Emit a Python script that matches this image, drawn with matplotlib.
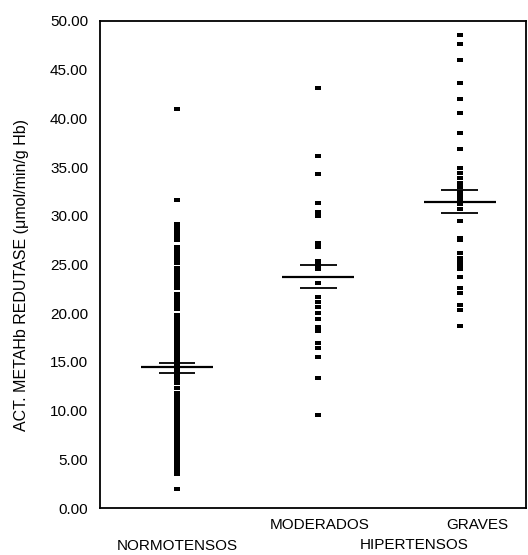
import matplotlib
matplotlib.use("Agg")
import matplotlib.pyplot as plt

# ---- data ----
groups = ["NORMOTENSOS", "MODERADOS", "GRAVES"]
positions = [1, 2, 3]

normotensos = [41.0, 31.6, 29.2, 28.9, 28.5, 28.2, 27.8, 27.5, 26.8, 26.4, 26.0,
               25.6, 25.2, 24.6, 24.2, 23.8, 23.4, 23.0, 22.6, 22.0, 21.6, 21.2,
               20.8, 20.4, 19.8, 19.4, 19.0, 18.6, 18.2, 17.8, 17.4, 17.0, 16.6,
               16.2, 15.8, 15.4, 15.0, 14.7, 14.4, 14.1, 13.8, 13.5, 13.2, 12.8,
               12.3, 11.8, 11.4, 11.0, 10.6, 10.2, 9.8, 9.4, 9.0, 8.6, 8.2, 7.8,
               7.4, 7.0, 6.6, 6.2, 5.8, 5.4, 5.0, 4.6, 4.2, 3.9, 3.5, 2.0]
moderados = [43.1, 36.1, 34.3, 31.3, 30.4, 30.0, 27.2, 26.8, 25.4, 25.0, 24.5,
             23.1, 21.7, 21.2, 20.6, 20.0, 19.4, 18.6, 18.2, 16.9, 16.4, 15.5,
             13.3, 9.5]
graves = [48.6, 47.6, 46.0, 43.6, 42.0, 40.6, 38.5, 36.9, 34.9, 34.4, 33.9,
          33.4, 33.0, 32.4, 32.0, 31.6, 31.2, 30.7, 29.5, 27.7, 27.5, 26.2,
          25.7, 25.3, 24.9, 24.5, 23.7, 22.6, 22.1, 20.8, 20.3, 18.7]

means = [14.5, 23.7, 31.4]
se_upper = [14.9, 25.0, 32.7]
se_lower = [13.9, 22.6, 30.3]

yticks = [0, 5, 10, 15, 20, 25, 30, 35, 40, 45, 50]
ytick_labels = ["0.00", "5.00", "10.00", "15.00", "20.00", "25.00",
                "30.00", "35.00", "40.00", "45.00", "50.00"]
ylabel = "ACT. METAHb REDUTASE (\u03bcmol/min/g Hb)"

plt.rcParams['font.family'] = ['Liberation Sans', 'DejaVu Sans']

W, H = 528, 555
fig = plt.figure(figsize=(W / 100, H / 100), dpi=100)
ax = fig.add_axes([100 / W, 1 - 508 / H, 426 / W, 487 / H])

rect = [(-1, -0.6), (1, -0.6), (1, 0.6), (-1, 0.6), (-1, -0.6)]
for pos, vals in zip(positions, [normotensos, moderados, graves]):
    ax.plot([pos] * len(vals), vals, linestyle="none", marker=rect,
            markersize=4.6, color="black", markeredgewidth=0)

half_long = 0.255
half_short = 0.13
ax.hlines(means, [p - half_long for p in positions],
          [p + half_long for p in positions], colors="black", linewidth=1.6)
ax.hlines(se_upper, [p - half_short for p in positions],
          [p + half_short for p in positions], colors="black", linewidth=1.3)
ax.hlines(se_lower, [p - half_short for p in positions],
          [p + half_short for p in positions], colors="black", linewidth=1.3)

ax.set_xlim(0.455, 3.47)
ax.set_ylim(0, 50)
ax.set_xticks([])
ax.set_yticks(yticks)
ax.set_yticklabels(ytick_labels)
ax.tick_params(axis="y", length=0, pad=8.5, labelsize=11)
for s in ax.spines.values():
    s.set_linewidth(1.3)
    s.set_color("black")

fig.text(22 / W, 1 - 275 / H, ylabel, rotation=90, ha="center", va="center",
         fontsize=11.5)

fig.text(320 / W, 1 - 525 / H, "MODERADOS", ha="center", va="center", fontsize=11)
fig.text(477 / W, 1 - 525 / H, "GRAVES", ha="center", va="center", fontsize=11)
fig.text(177 / W, 1 - 546 / H, "NORMOTENSOS", ha="center", va="center", fontsize=11)
fig.text(414 / W, 1 - 545 / H, "HIPERTENSOS", ha="center", va="center", fontsize=11)

fig.savefig("out.png", dpi=100)
